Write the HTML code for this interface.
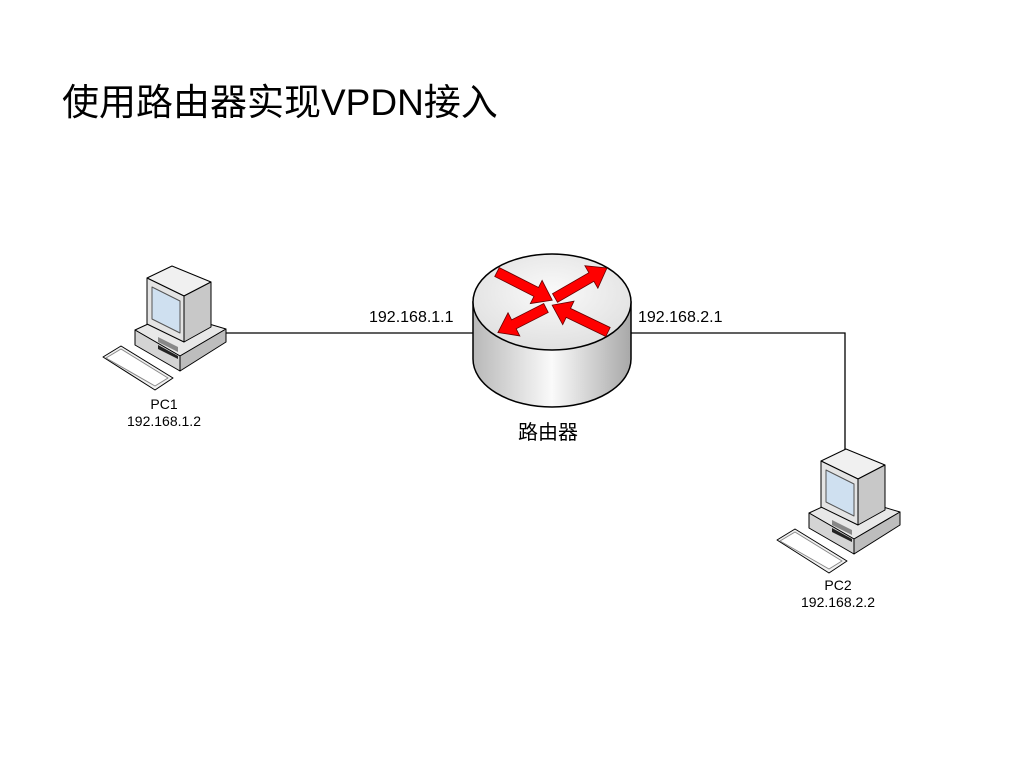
<!DOCTYPE html>
<html><head><meta charset="utf-8"><style>
html,body{margin:0;padding:0;background:#fff;}
body{width:1024px;height:768px;position:relative;overflow:hidden;font-family:"Liberation Sans","Noto Sans CJK SC",sans-serif;}
.t{position:absolute;white-space:nowrap;color:#000;}
</style></head><body>
<div class="t" style="left:62px;top:81px;font-size:37px;line-height:44px;">使用路由器实现VPDN接入</div>
<svg width="1024" height="768" style="position:absolute;left:0;top:0">
<defs>
<linearGradient id="cyl" x1="0" x2="1" y1="0" y2="0">
<stop offset="0" stop-color="#b8b8b8"/><stop offset="0.5" stop-color="#fafafa"/><stop offset="1" stop-color="#a8a8a8"/>
</linearGradient>
<radialGradient id="top" cx="0.5" cy="0.4" r="0.7"><stop offset="0" stop-color="#fafafa"/><stop offset="1" stop-color="#dcdcdc"/></radialGradient>
<g id="pc" stroke="#000" stroke-width="1" stroke-linejoin="round">
<polygon points="103,357 121,346 173,378 155,390" fill="#f2f2f2"/>
<polygon points="106,358 121,349 168,378 155,386" fill="#fff" stroke="#888"/>
<polygon points="135,330 172,313 226,329 180,356" fill="#e8e8e8"/>
<polygon points="135,330 180,356 180,371 135,345" fill="#d4d4d4"/>
<polygon points="180,356 226,329 226,342 180,371" fill="#bdbdbd"/>
<polygon points="147,278 172,266 211,282 184,296" fill="#f0f0f0"/>
<polygon points="184,296 211,282 211,327 184,342" fill="#c8c8c8"/>
<polygon points="147,278 184,296 184,342 147,324" fill="#e4e4e4"/>
<polygon points="152,287 180,301 180,333 152,319" fill="#cfe0f0" stroke="#555"/>
<polygon points="158,337 178,347 178,352 158,342" fill="#888" stroke="none"/>
<polygon points="158,345 178,356 178,359 158,349" fill="#222" stroke="none"/>
</g>
</defs>
<polyline points="226,333 473,333" fill="none" stroke="#000" stroke-width="1.3"/>
<polyline points="631,333 845,333 845,455" fill="none" stroke="#000" stroke-width="1.3"/>
<use href="#pc"/>
<use href="#pc" transform="translate(674,183)"/>
<path d="M473,302 L473,359 A79,48 0 0 0 631,359 L631,302 Z" fill="url(#cyl)" stroke="#000" stroke-width="1.5"/>
<ellipse cx="552" cy="302" rx="79" ry="48" fill="url(#top)" stroke="#000" stroke-width="1.5"/>
<g fill="#f00" stroke="#600" stroke-width="0.8">
<polygon transform="translate(497,272) rotate(27)" points="0,-5 44,-5 44,-13 62,0 44,13 44,5 0,5"/>
<polygon transform="translate(555,298) rotate(-30)" points="0,-5 42,-5 42,-13 60,0 42,13 42,5 0,5"/>
<polygon transform="translate(608,332) rotate(205.7)" points="0,-5 44,-5 44,-13 62,0 44,13 44,5 0,5"/>
<polygon transform="translate(546,308) rotate(153)" points="0,-5 36,-5 36,-13 54,0 36,13 36,5 0,5"/>
</g>
</svg>
<div class="t" style="left:369px;top:309px;font-size:16px;">192.168.1.1</div>
<div class="t" style="left:638px;top:309px;font-size:16px;">192.168.2.1</div>
<div class="t" style="left:518px;top:416px;font-size:20px;">路由器</div>
<div class="t" style="left:124px;top:396px;font-size:14px;width:80px;text-align:center;line-height:17px;">PC1<br>192.168.1.2</div>
<div class="t" style="left:798px;top:577px;font-size:14px;width:80px;text-align:center;line-height:17px;">PC2<br>192.168.2.2</div>
</body></html>
